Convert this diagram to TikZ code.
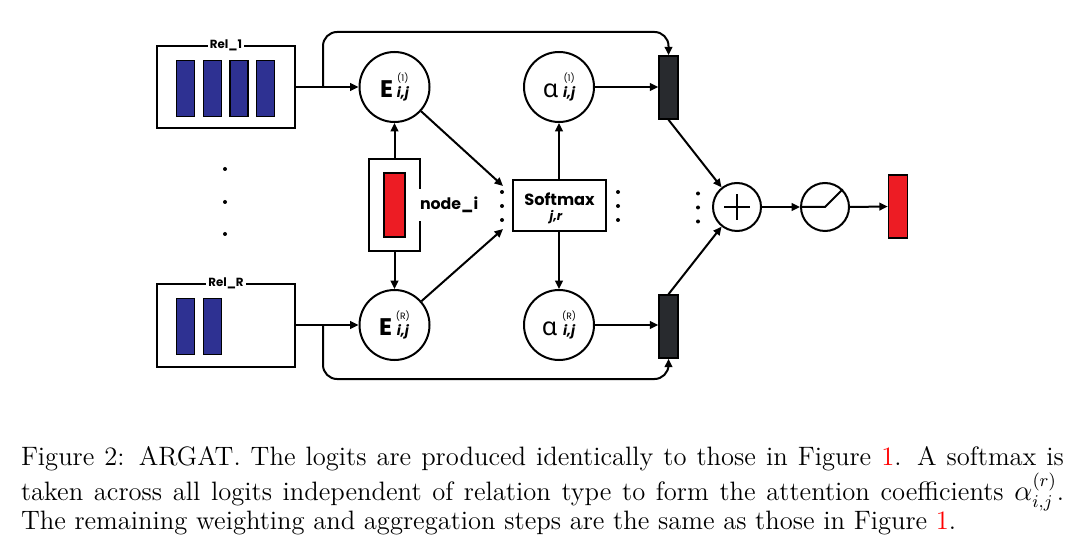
\documentclass[tikz,border=0pt]{standalone}
\usepackage{amsmath}
\usepackage{fontspec}
\usepackage{tikz}
\usetikzlibrary{arrows.meta}
\usepackage{xcolor}
\newfontfamily\pop{Poppins}
\newfontfamily\grk{Noto Sans}
\definecolor{relblue}{RGB}{46,49,146}
\definecolor{nodered}{RGB}{237,28,36}
\definecolor{weight}{RGB}{40,42,46}
% coefficient label: letter with (r) above i,j
\newcommand{\coef}[2]{#1\hspace{1.8pt}\vbox{\offinterlineskip\halign{\hfil##\hfil\cr
    \fontsize{4.6}{4.6}\selectfont\mdseries(#2)\cr\noalign{\kern1.8pt}
    \fontsize{6.8}{6.8}\selectfont\bfseries\itshape i,j\cr}}}

\begin{document}
\begin{tikzpicture}[x=0.5pt,y=-0.5pt,line width=1pt,
    arr/.style={-{Triangle[length=4.2pt,width=3.8pt]}},
    relbox/.style={draw,minimum width=69pt,minimum height=41pt},
    relbar/.style={draw,fill=relblue,line width=0.8pt,minimum width=9pt,minimum height=28pt,inner sep=0pt},
    unit/.style={draw,circle,minimum size=35pt,inner sep=0pt,font=\pop},
    op/.style={draw,circle,minimum size=24pt,inner sep=0pt},
    vec/.style={draw,line width=0.8pt,minimum width=9.5pt,minimum height=31.5pt,inner sep=0pt},
    tag/.style={fill=white,inner sep=1pt,font=\pop\bfseries\fontsize{5.9}{6}\selectfont}]
    \useasboundingbox (0,0) rectangle (1080,555);
    % Relationen
    \node[relbox] (rel1) at (226,87) {};
    \node[relbox] (relR) at (226,325.5) {};
    \node[tag] at (rel1.north) {Rel\_1};
    \node[tag] at (relR.north) {Rel\_R};
    \foreach \x in {185.5,212.5,239,265.5}
        \node[relbar] at (\x,88.5) {};
    \foreach \x in {185.5,212.5}
        \node[relbar] at (\x,326.5) {};
    \foreach \y in {169,202,234}
        \fill (225,\y) circle (1pt);
    % node_i
    \node[draw,minimum width=25.5pt,minimum height=46pt] (nodei) at (394.5,205) {};
    \node[draw,fill=nodered,line width=0.8pt,minimum width=10.5pt,minimum height=32pt,inner sep=0pt] at (394.5,205) {};
    \node[fill=white,inner xsep=1pt,inner ysep=4pt,anchor=west,font=\pop\bfseries\fontsize{7.9}{8}\selectfont]
        at ([xshift=-2pt]nodei.east) {node\_i};
    % Logits
    \node[unit] (E1) at (394.5,87) {\fontsize{12}{12}\selectfont\bfseries\coef{E}{1}};
    \node[unit] (ER) at (394.5,325) {\fontsize{12}{12}\selectfont\bfseries\coef{E}{R}};
    \node[draw,minimum width=46.5pt,minimum height=25.5pt,inner sep=0pt] (soft) at (559,205.5) {};
    \node[anchor=base,inner sep=0pt,font=\pop\bfseries\fontsize{8.1}{8}\selectfont] (softtxt) at (559.5,206) {Softmax};
    \node[anchor=base,inner sep=0pt,font=\pop\bfseries\itshape\fontsize{6.3}{6}\selectfont] (softsub) at (556,221) {j,r};
    \node[unit] (a1) at (559,87) {\fontsize{12.5}{12.5}\selectfont\coef{{\grk α}\hspace{0.6pt}}{1}};
    \node[unit] (aR) at (559,325) {\fontsize{12.5}{12.5}\selectfont\coef{{\grk α}\hspace{0.6pt}}{R}};
    \foreach \x/\d in {502/0,618/0,698/1.5}
        \foreach \y in {192,206,220}
            \fill (\x,\y+\d) circle (1pt);
    \coordinate (ltop) at (503,186);
    \coordinate (lbot) at (503,229);
    % Gewichtung
    \node[vec,fill=weight] (w1) at (668.5,87.5) {};
    \node[vec,fill=weight] (wR) at (668.5,326.5) {};
    \node[op] (plus) at (737,207) {};
    \node[op] (relu) at (825,207) {};
    \node[vec,fill=nodered] (out) at (898,206.5) {};
    \draw[line width=0.9pt] ([xshift=-6.5pt]plus.center) -- ([xshift=6.5pt]plus.center);
    \draw[line width=0.9pt] ([yshift=-6.5pt]plus.center) -- ([yshift=6.5pt]plus.center);
    \draw (relu.west) -- (relu.center) -- (relu.north east);
    % Verbindungen
    \coordinate (s1) at (323,87);
    \coordinate (s2) at (323,325);
    \coordinate (top) at (0,32);
    \coordinate (bot) at (0,379);
    \draw[arr] (rel1.east |- E1) -- (E1.west);
    \draw[arr] (relR.east |- ER) -- (ER.west);
    \draw[arr,rounded corners=7pt] (s1) |- (top -| w1.north) -- (w1.north);
    \draw[arr,rounded corners=7pt] (s2) |- (bot -| wR.south) -- (wR.south);
    \draw[arr] (nodei.north) -- (E1.south);
    \draw[arr] (nodei.south) -- (ER.north);
    \draw[arr] (E1) -- (ltop);
    \draw[arr] (ER) -- (lbot);
    \draw[arr] (soft.north) -- (a1.south);
    \draw[arr] (soft.south) -- (aR.north);
    \draw[arr] (a1.east) -- (a1.east -| w1.west);
    \draw[arr] (aR.east) -- (aR.east -| wR.west);
    \draw[arr] (w1.south) -- (plus);
    \draw[arr] (wR.north) -- (plus);
    \draw[arr] (plus.east) -- (relu.west);
    \draw[arr] (relu.east) -- (out.west);
    % Legende
    \node[anchor=north west,inner sep=0pt,text width=521.5pt,align=justify,
        font=\fontsize{13.3}{14.5}\selectfont] (cap) at (20,445.5)
        {\lineskiplimit=-20pt\relax Figure 2: ARGAT. The logits are produced identically to those in Figure {\color{red}1}. A softmax is\linebreak taken across all logits independent of relation type to form the attention coefficients $\alpha^{(r)}_{i,j}$.\linebreak The remaining weighting and aggregation steps are the same as those in Figure {\color{red}1}.};
\end{tikzpicture}
\end{document}
